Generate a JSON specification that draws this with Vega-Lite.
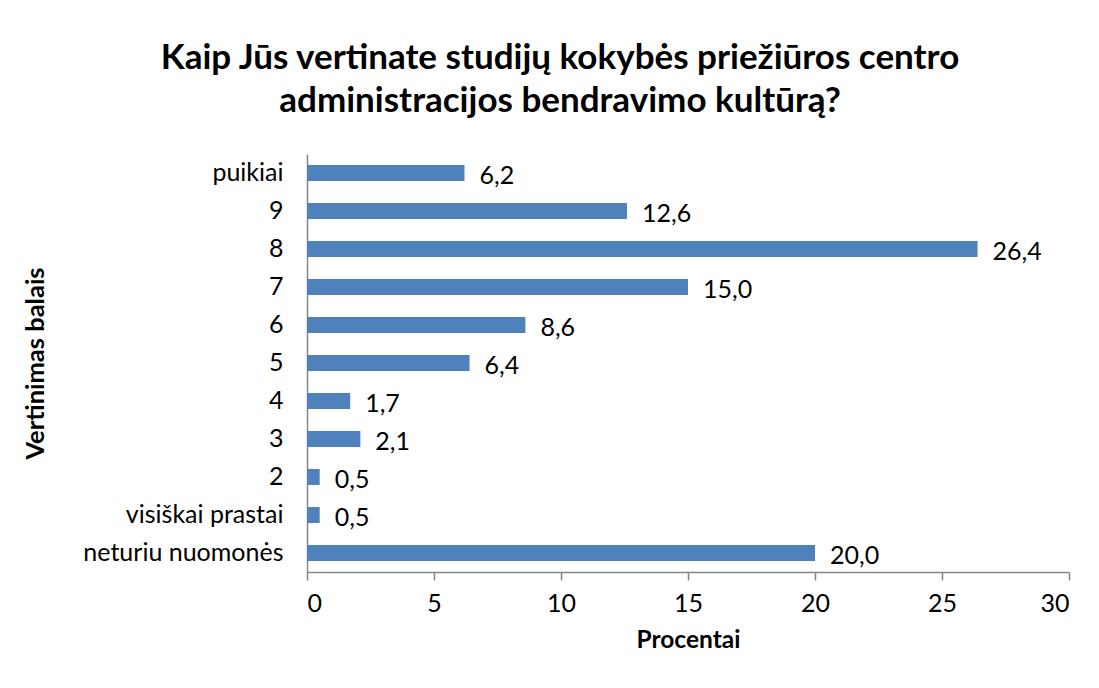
{
  "$schema": "https://vega.github.io/schema/vega-lite/v6.json",
  "width": 762,
  "height": 418,
  "autosize": {"type": "none"},
  "padding": {"left": 307, "top": 154, "right": 30, "bottom": 116},
  "background": "white",
  "config": {
    "view": {"stroke": null},
    "font": "Lato",
    "locale": {"number": {"decimal": ",", "thousands": " ", "grouping": [3], "currency": ["", ""]}}
  },
  "title": {
    "text": ["Kaip Jūs vertinate studijų kokybės priežiūros centro", "administracijos bendravimo kultūrą?"],
    "font": "Lato",
    "fontSize": 35,
    "fontWeight": "bold",
    "color": "#000000",
    "anchor": "middle",
    "dx": -128,
    "lineHeight": 43,
    "offset": 35
  },
  "data": {
    "values": [
      {"cat": "puikiai", "v": 6.2},
      {"cat": "9", "v": 12.6},
      {"cat": "8", "v": 26.4},
      {"cat": "7", "v": 15.0},
      {"cat": "6", "v": 8.6},
      {"cat": "5", "v": 6.4},
      {"cat": "4", "v": 1.7},
      {"cat": "3", "v": 2.1},
      {"cat": "2", "v": 0.5},
      {"cat": "visiškai prastai", "v": 0.5},
      {"cat": "neturiu nuomonės", "v": 20.0}
    ]
  },
  "encoding": {
    "y": {
      "field": "cat",
      "type": "nominal",
      "sort": null,
      "scale": {"paddingInner": 0.58, "paddingOuter": 0.29},
      "axis": {
        "title": "Vertinimas balais",
        "titleFont": "Lato",
        "titleFontSize": 25.5,
        "titleFontWeight": "bold",
        "titleColor": "#000000",
        "titleX": -272,
        "titleBaseline": "middle",
        "labelFont": "Lato",
        "labelFontSize": 25,
        "labelColor": "#000000",
        "labelPadding": 24,
        "labelLimit": 400,
        "ticks": false,
        "domainColor": "#868686",
        "domainWidth": 1.5
      }
    },
    "x": {
      "field": "v",
      "type": "quantitative",
      "scale": {"domain": [0, 30], "nice": false},
      "axis": {
        "values": [0, 5, 10, 15, 20, 25, 30],
        "format": "d",
        "title": "Procentai",
        "titleFont": "Lato",
        "titleFontSize": 24.5,
        "titleFontWeight": "bold",
        "titleColor": "#000000",
        "titlePadding": 12,
        "labelFont": "Lato",
        "labelFontSize": 25,
        "labelColor": "#000000",
        "labelPadding": 11,
        "grid": false,
        "tickSize": 8,
        "tickColor": "#868686",
        "tickWidth": 1.5,
        "domainColor": "#868686",
        "domainWidth": 1.5
      }
    }
  },
  "layer": [
    {"mark": {"type": "bar", "color": "#4F81BD"}},
    {
      "mark": {"type": "text", "align": "left", "baseline": "middle", "dx": 15, "dy": 3, "font": "Lato", "fontSize": 25, "color": "#000000"},
      "encoding": {"text": {"field": "v", "type": "quantitative", "format": ".1f"}}
    }
  ]
}
